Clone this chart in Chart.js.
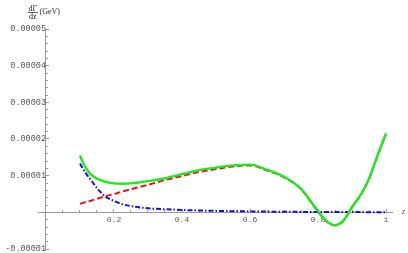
<!DOCTYPE html>
<html>
<head>
<meta charset="utf-8">
<script src="https://cdn.jsdelivr.net/npm/chart.js@4/dist/chart.umd.min.js"></script>
<style>
  html, body { margin: 0; padding: 0; background: #fff; }
  #wrap { width: 408px; height: 253px; }
</style>
</head>
<body>
<div id="wrap"><canvas id="grafica" width="408" height="253"></canvas></div>
<script>
// ---------- DATA (y values in units of 1e-5 GeV) ----------
const zVals   = [0.1, 0.11, 0.12, 0.13, 0.15, 0.175, 0.2, 0.225, 0.25, 0.3, 0.35, 0.4, 0.45, 0.5,
                 0.55, 0.6, 0.65, 0.7, 0.75, 0.8, 0.825, 0.85, 0.875, 0.9, 0.925, 0.95, 0.975, 1.0];
const totalV  = [1.55, 1.33, 1.17, 1.05, 0.92, 0.83, 0.79, 0.78, 0.79, 0.85, 0.93, 1.04, 1.15, 1.22,
                 1.28, 1.30, 1.16, 0.97, 0.64, 0.03, -0.24, -0.35, -0.22, 0.15, 0.47, 0.92, 1.55, 2.15];
const redV    = [0.23, 0.26, 0.29, 0.31, 0.37, 0.44, 0.50, 0.57, 0.63, 0.75, 0.88, 0.99, 1.10, 1.18,
                 1.25, 1.28, 1.14, 0.955, 0.63, 0.02, -0.25, -0.36, -0.23, 0.14, 0.46, 0.91, 1.54, 2.14];
const blueV   = [1.33, 1.17, 1.03, 0.91, 0.66, 0.43, 0.31, 0.22, 0.17, 0.11, 0.085, 0.065, 0.05, 0.04,
                 0.03, 0.025, 0.02, 0.015, 0.012, 0.01, 0.009, 0.008, 0.007, 0.006, 0.006, 0.005, 0.005, 0.005];
const UNIT = 1e-5;

// ---------- TICKS ----------
const xMajor = [0.2, 0.4, 0.6, 0.8, 1];
const xMinor = [0.05, 0.1, 0.15, 0.25, 0.3, 0.35, 0.45, 0.5, 0.55, 0.65, 0.7, 0.75, 0.85, 0.9, 0.95];
const yMajor = [-0.00001, 0.00001, 0.00002, 0.00003, 0.00004, 0.00005];
const yMinor = [-0.000008, -0.000006, -0.000004, -0.000002, 0.000002, 0.000004, 0.000006, 0.000008,
                0.000012, 0.000014, 0.000016, 0.000018, 0.000022, 0.000024, 0.000026, 0.000028,
                0.000032, 0.000034, 0.000036, 0.000038, 0.000042, 0.000044, 0.000046, 0.000048];

const X_MIN = -0.0235, X_MAX = 1.0176;
const Y_MIN = -0.00001, Y_MAX = 0.00005;
const GRIS = "#999";
const fuenteTicks = { family: "'Liberation Mono', 'DejaVu Sans Mono', monospace", size: 8.5 };

function puntos(arr) {
  return zVals.map((z, i) => ({ x: z, y: arr[i] * UNIT }));
}

function fijar(lista) {
  return s => { s.ticks = lista.map(v => ({ value: v })); };
}

// axes sit on the origin, so they must not take room from the plot box
function sinEspacio(s) {
  if (s.isHorizontal()) s.height = 0; else s.width = 0;
  s.paddingTop = s.paddingBottom = s.paddingLeft = s.paddingRight = 0;
}

function ejeX(lista, largo, etiquetas, borde) {
  return {
    type: "linear", axis: "x", min: X_MIN, max: X_MAX,
    position: { y: 0 },
    afterBuildTicks: fijar(lista),
    afterFit: sinEspacio,
    grid: { drawOnChartArea: false, drawTicks: true, tickLength: largo, tickColor: GRIS },
    border: { display: borde, color: GRIS, width: 1 },
    ticks: {
      display: etiquetas, padding: 7, color: "#555",
      font: { family: fuenteTicks.family, size: 8 },
      callback: v => String(Math.round(v * 10) / 10),
      maxRotation: 0, autoSkip: false
    }
  };
}

function ejeY(lista, largo, etiquetas, borde) {
  return {
    type: "linear", axis: "y", min: Y_MIN, max: Y_MAX,
    position: { x: 0 },
    afterBuildTicks: fijar(lista),
    afterFit: sinEspacio,
    grid: { drawOnChartArea: false, drawTicks: true, tickLength: largo, tickColor: GRIS },
    border: { display: borde, color: GRIS, width: 1 },
    ticks: {
      display: etiquetas, padding: 7, color: "#555", font: fuenteTicks,
      callback: v => v.toFixed(5), autoSkip: false
    }
  };
}

// axis labels drawn as text next to the axes
const rotulos = {
  id: "rotulos",
  afterDraw(chart) {
    const ctx = chart.ctx;
    ctx.save();
    ctx.fillStyle = "#222";
    ctx.textBaseline = "middle";
    ctx.font = "8px 'Liberation Serif', serif";
    ctx.textAlign = "center";
    ctx.fillText("d\u0393", 32.7, 8.5);
    ctx.fillText("dz", 32.7, 16.7);
    ctx.fillRect(28, 12.2, 10, 0.7);
    ctx.textAlign = "left";
    ctx.fillText("(GeV)", 39.5, 12);
    ctx.fillStyle = "#555";
    ctx.font = "italic 8px 'Liberation Serif', serif";
    ctx.fillText("z", 402, 212);
    ctx.restore();
  }
};

new Chart(document.getElementById("grafica").getContext("2d"), {
  type: "line",
  data: {
    datasets: [
      {
        label: "total", data: puntos(totalV),
        borderColor: "#1ee81e", borderWidth: 2.4, pointRadius: 0,
        cubicInterpolationMode: "monotone"
      },
      {
        label: "red", data: puntos(redV),
        borderColor: "#f01010", borderWidth: 2, borderDash: [6, 3], pointRadius: 0,
        cubicInterpolationMode: "monotone"
      },
      {
        label: "blue", data: puntos(blueV),
        borderColor: "#1010e8", borderWidth: 2, borderDash: [5, 2, 1.5, 2], pointRadius: 0,
        cubicInterpolationMode: "monotone"
      }
    ]
  },
  options: {
    responsive: false,
    animation: false,
    devicePixelRatio: 1,
    layout: { padding: { left: 38, right: 16, top: 29, bottom: 4 } },
    plugins: { legend: { display: false }, tooltip: { enabled: false } },
    scales: {
      x: ejeX(xMajor, -4, true, true),
      xm: ejeX(xMinor, -2, false, false),
      y: ejeY(yMajor, -4, true, true),
      ym: ejeY(yMinor, -2, false, false)
    }
  },
  plugins: [rotulos]
});
</script>
</body>
</html>
